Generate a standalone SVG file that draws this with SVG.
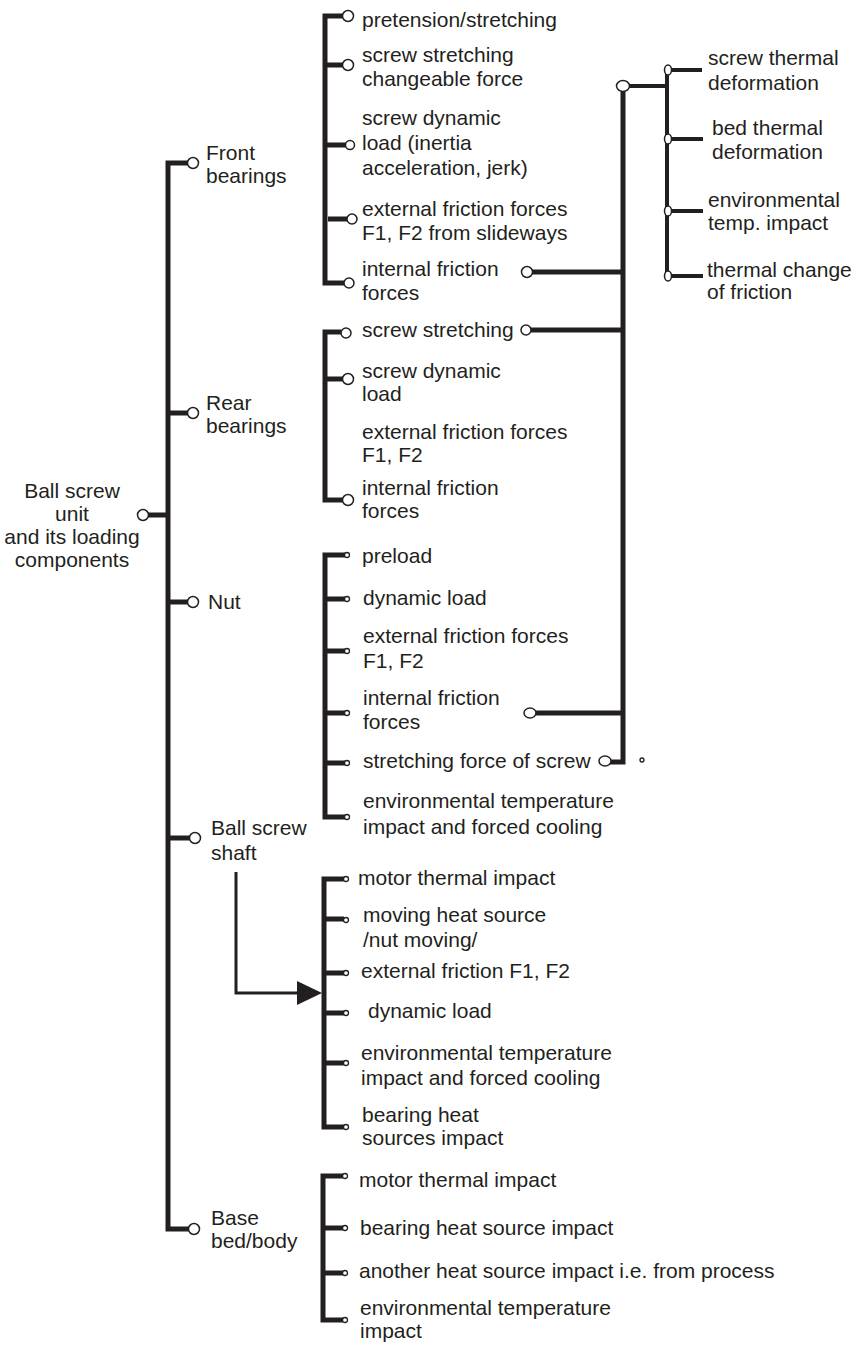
<svg xmlns="http://www.w3.org/2000/svg" width="855" height="1345" viewBox="0 0 855 1345">
<style>
text{font-family:"Liberation Sans",Arial,sans-serif;font-size:21px;fill:#231f20}
.t{stroke:#231f20;stroke-width:5;fill:none;stroke-linejoin:miter}
.s{stroke:#231f20;stroke-width:4;fill:none}
.a{stroke:#231f20;stroke-width:3;fill:none}
.c{fill:#fff;stroke:#231f20;stroke-width:1.5}
.d{fill:#fff;stroke:#231f20;stroke-width:1.3}
</style>
<rect width="855" height="1345" fill="#fff"/>
<g id="connectors">
<path class="t" d="M188,163H168V1229H189M168,413H188M148,515H168M168,602H188M168,838H190"/>
<path class="t" d="M343,16H325V283H344M325,65H343M325,145H346M328,219H347"/>
<path class="t" d="M341,332H325V500H343M325,379H343"/>
<path class="t" d="M345,555H325V817H345M325,599H345M325,651H345M325,713H345M325,763H345"/>
<path class="t" d="M344,879H324V1127H344M324,919H344M324,973H344M324,1013H344M324,1063H344"/>
<path class="t" d="M343,1176H323V1320H343M323,1228H343M323,1273H343"/>
<path class="t" d="M623,92V762H610M532,272H623M531,330H623M535,713H623"/>
<path class="s" d="M629,86H667M667,70V276M671,70H702M671,139H703M671,211H703M671,276H703"/>
<path class="a" d="M236,872V993H299"/>
<polygon points="297,981 322,993 297,1005" fill="#231f20"/>
</g>
<g id="root"><circle class="c" cx="143" cy="515" r="5.5"/>
<text text-anchor="middle"><tspan x="72" y="498">Ball screw</tspan><tspan x="72" y="521">unit</tspan><tspan x="72" y="544">and its loading</tspan><tspan x="72" y="567">components</tspan></text></g>
<g id="front"><circle class="c" cx="193" cy="163" r="5.5"/><text><tspan x="206" y="160">Front</tspan><tspan x="206" y="183">bearings</tspan></text></g>
<g id="rear"><circle class="c" cx="193" cy="413" r="5.5"/><text><tspan x="206" y="410">Rear</tspan><tspan x="206" y="433">bearings</tspan></text></g>
<g id="nut"><circle class="c" cx="193" cy="602" r="5.5"/><text x="208" y="609">Nut</text></g>
<g id="shaft"><circle class="c" cx="195" cy="838" r="5.5"/><text><tspan x="211" y="835">Ball screw</tspan><tspan x="211" y="860">shaft</tspan></text></g>
<g id="base"><circle class="c" cx="194" cy="1229" r="5.5"/><text><tspan x="211" y="1225">Base</tspan><tspan x="211" y="1248">bed/body</tspan></text></g>

<g id="f1"><circle class="c" cx="348" cy="16" r="5.5"/><text x="362" y="27">pretension/stretching</text></g>
<g id="f2"><circle class="c" cx="348" cy="65" r="5.5"/><text><tspan x="362" y="62">screw stretching</tspan><tspan x="362" y="86">changeable force</tspan></text></g>
<g id="f3"><circle class="c" cx="350" cy="145" r="4.5"/><text><tspan x="362" y="125">screw dynamic</tspan><tspan x="362" y="150">load (inertia</tspan><tspan x="362" y="175">acceleration, jerk)</tspan></text></g>
<g id="f4"><circle class="c" cx="352" cy="219" r="5"/><text><tspan x="362" y="216">external friction forces</tspan><tspan x="362" y="240">F1, F2 from slideways</tspan></text></g>
<g id="f5"><circle class="c" cx="349" cy="283" r="5"/><circle class="c" cx="527" cy="272" r="5.5"/><text><tspan x="362" y="276">internal friction</tspan><tspan x="362" y="300">forces</tspan></text></g>

<g id="r1"><circle class="c" cx="346" cy="333" r="5"/><circle class="c" cx="526" cy="330" r="5"/><text x="362" y="337">screw stretching</text></g>
<g id="r2"><circle class="c" cx="348" cy="379" r="5.5"/><text><tspan x="362" y="378">screw dynamic</tspan><tspan x="362" y="401">load</tspan></text></g>
<g id="r3"><text><tspan x="362" y="439">external friction forces</tspan><tspan x="362" y="462">F1, F2</tspan></text></g>
<g id="r4"><circle class="c" cx="348" cy="500" r="5.5"/><text><tspan x="362" y="495">internal friction</tspan><tspan x="362" y="518">forces</tspan></text></g>

<g id="n1"><circle class="d" cx="347" cy="555" r="2.5"/><text x="362" y="563">preload</text></g>
<g id="n2"><circle class="d" cx="347" cy="599" r="2.5"/><text x="363" y="605">dynamic load</text></g>
<g id="n3"><circle class="d" cx="347" cy="651" r="2.5"/><text><tspan x="363" y="643">external friction forces</tspan><tspan x="363" y="668">F1, F2</tspan></text></g>
<g id="n4"><circle class="d" cx="347" cy="713" r="2.5"/><ellipse class="c" cx="530" cy="713" rx="6" ry="5"/><text><tspan x="363" y="705">internal friction</tspan><tspan x="363" y="729">forces</tspan></text></g>
<g id="n5"><circle class="d" cx="347" cy="763" r="2.5"/><ellipse class="c" cx="605" cy="761" rx="6" ry="5"/><text x="363" y="768">stretching force of screw</text></g>
<g id="n6"><circle class="d" cx="347" cy="817" r="2.5"/><text><tspan x="363" y="808">environmental temperature</tspan><tspan x="363" y="834">impact and forced cooling</tspan></text></g>
<circle class="d" cx="642" cy="760" r="2"/>

<g id="s1"><circle class="d" cx="346" cy="879" r="2.5"/><text x="358" y="885">motor thermal impact</text></g>
<g id="s2"><circle class="d" cx="346" cy="920" r="2.5"/><text><tspan x="363" y="922">moving heat source</tspan><tspan x="363" y="947">/nut moving/</tspan></text></g>
<g id="s3"><circle class="d" cx="346" cy="973" r="2.5"/><text x="361" y="978">external friction F1, F2</text></g>
<g id="s4"><circle class="d" cx="346" cy="1013" r="2.5"/><text x="368" y="1018">dynamic load</text></g>
<g id="s5"><circle class="d" cx="346" cy="1063" r="2.5"/><text><tspan x="361" y="1060">environmental temperature</tspan><tspan x="361" y="1085">impact and forced cooling</tspan></text></g>
<g id="s6"><circle class="d" cx="346" cy="1127" r="2.5"/><text><tspan x="362" y="1122">bearing heat</tspan><tspan x="362" y="1145">sources impact</tspan></text></g>

<g id="b1"><circle class="d" cx="345" cy="1176" r="2.5"/><text x="359" y="1187">motor thermal impact</text></g>
<g id="b2"><circle class="d" cx="345" cy="1228" r="2.5"/><text x="360" y="1235">bearing heat source impact</text></g>
<g id="b3"><circle class="d" cx="345" cy="1273" r="2.5"/><text x="359" y="1278">another heat source impact i.e. from process</text></g>
<g id="b4"><circle class="d" cx="345" cy="1320" r="2.5"/><text><tspan x="360" y="1315">environmental temperature</tspan><tspan x="360" y="1338">impact</tspan></text></g>

<g id="thermal"><ellipse class="c" cx="623" cy="86" rx="6.5" ry="5.5"/></g>
<g id="t1"><ellipse class="c" cx="668" cy="70" rx="3.5" ry="5"/><text><tspan x="708" y="65">screw thermal</tspan><tspan x="708" y="90">deformation</tspan></text></g>
<g id="t2"><ellipse class="c" cx="668" cy="139" rx="3.5" ry="5"/><text><tspan x="712" y="135">bed thermal</tspan><tspan x="712" y="159">deformation</tspan></text></g>
<g id="t3"><ellipse class="c" cx="668" cy="211" rx="3.5" ry="5"/><text><tspan x="708" y="207">environmental</tspan><tspan x="708" y="230">temp. impact</tspan></text></g>
<g id="t4"><ellipse class="c" cx="668" cy="276" rx="3.5" ry="5"/><text><tspan x="707" y="277">thermal change</tspan><tspan x="707" y="299">of friction</tspan></text></g>
</svg>
